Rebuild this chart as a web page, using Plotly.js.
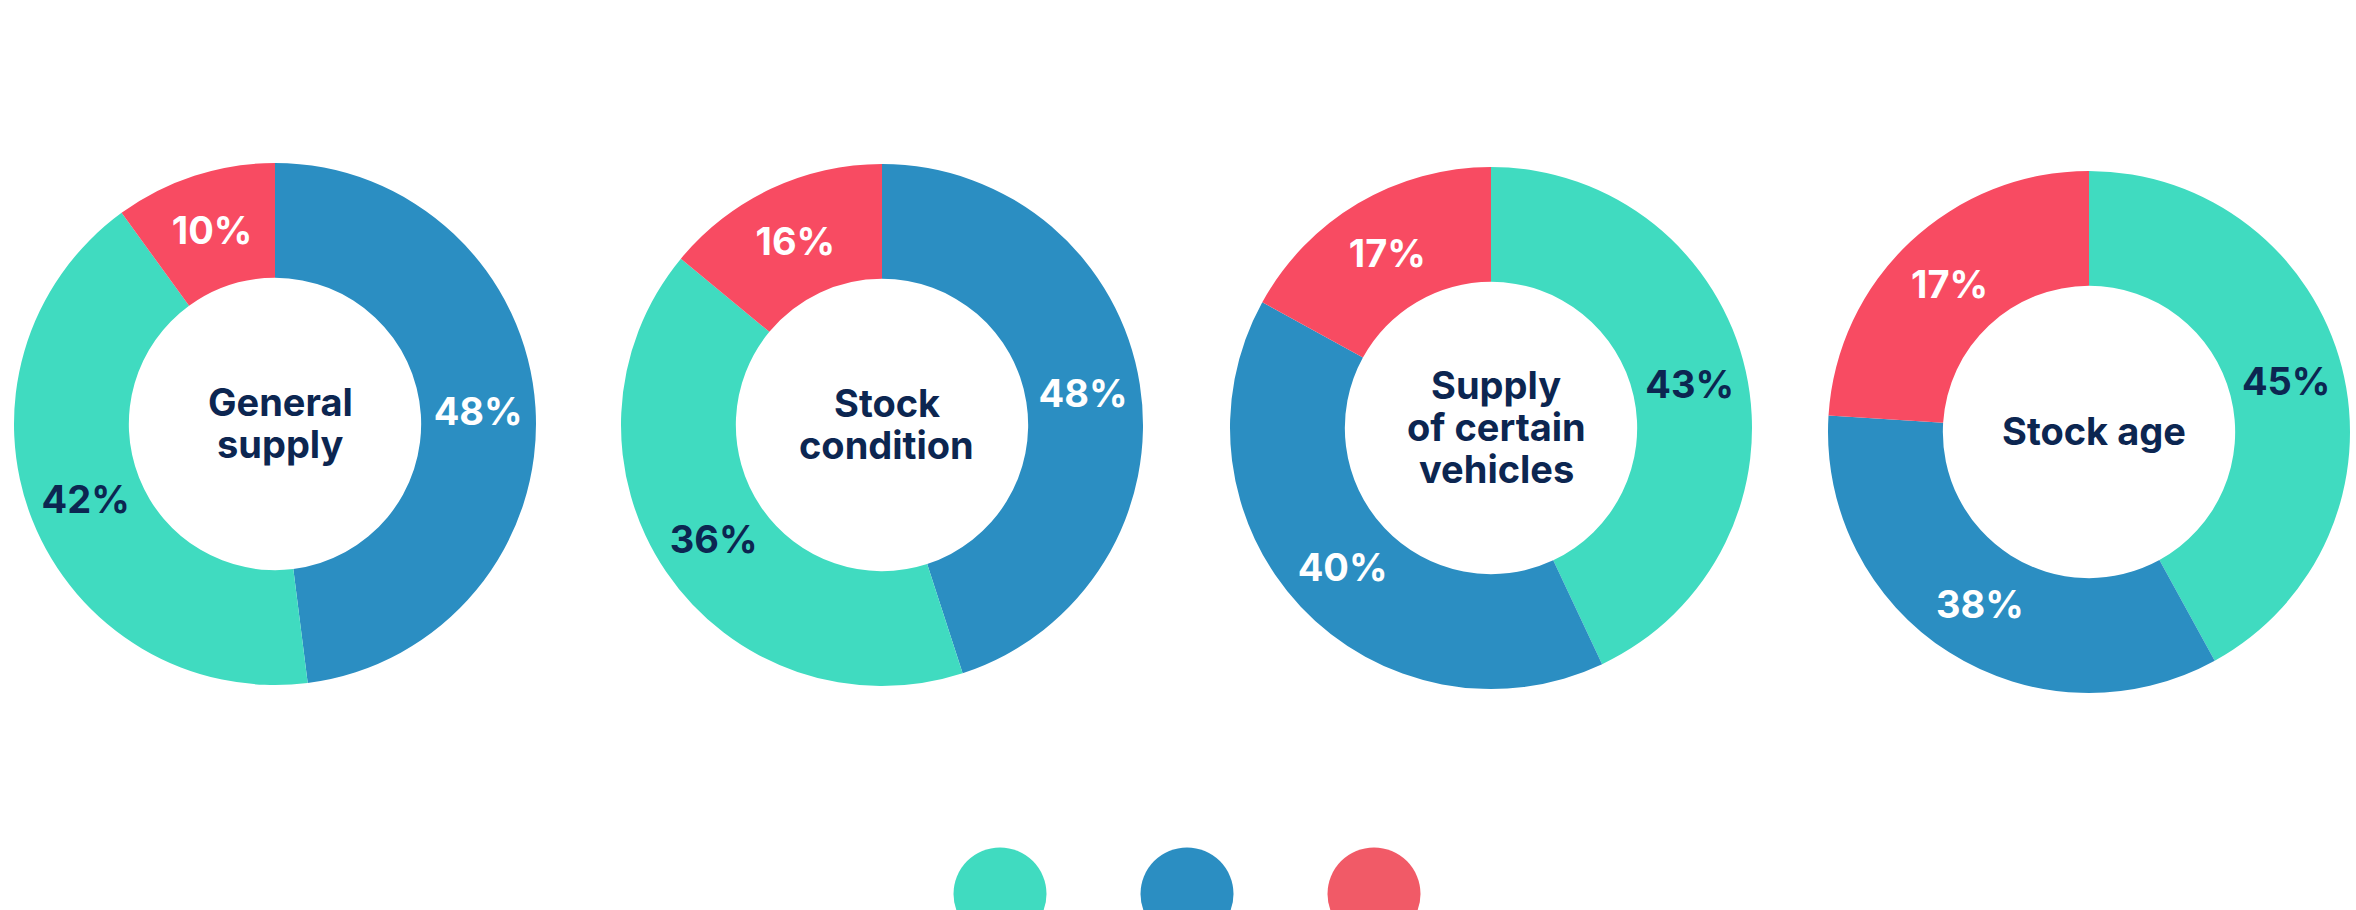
<!DOCTYPE html>
<html>
<head>
<meta charset="utf-8">
<script src="https://cdn.plot.ly/plotly-3.0.1.min.js"></script>
<style>
  html, body { margin: 0; padding: 0; background: #ffffff; }
  #chart { width: 2356px; height: 910px; }
</style>
</head>
<body>
<div id="chart"></div>
<script>
// ---- Data ----
const categories = ["Segment 1", "Segment 2", "Segment 3"];   // teal, blue, red (legend order)
const pieTitles = ["General<br>supply", "Stock<br>condition", "Supply<br>of certain<br>vehicles", "Stock age"];

// slice order (clockwise from 12 o'clock) for each donut
const generalSupplyLabels   = ["Segment 2", "Segment 1", "Segment 3"];
const stockConditionLabels  = ["Segment 2", "Segment 1", "Segment 3"];
const certainVehiclesLabels = ["Segment 1", "Segment 2", "Segment 3"];
const stockAgeLabels        = ["Segment 1", "Segment 2", "Segment 3"];

// arc shares as drawn in the picture
const generalSupplyShares   = [48, 42, 10];
const stockConditionShares  = [45, 41, 14];
const certainVehiclesShares = [43, 40, 17];
const stockAgeShares        = [42, 34, 24];

// percentages printed on the slices
const generalSupplyText   = ["48%", "42%", "10%"];
const stockConditionText  = ["48%", "36%", "16%"];
const certainVehiclesText = ["43%", "40%", "17%"];
const stockAgeText        = ["45%", "38%", "17%"];

// ---- Styling ----
const W = 2356, H = 910;
const navy = "#0c2651";
const sliceColor = {"Segment 1": "#40dbc0", "Segment 2": "#2b8ec2", "Segment 3": "#f84b62"};
const legendColor = {"Segment 1": "#40dbc0", "Segment 2": "#2b8ec2", "Segment 3": "#f15a67"};
const sliceTextColor = {"Segment 1": navy, "Segment 2": "#ffffff", "Segment 3": "#ffffff"};
const fontFamily = "Inter, 'Open Sans', Arial, sans-serif";

const R = 261;                       // outer radius in px
const centers = [[275, 424], [882, 425], [1491, 428], [2089, 432]];
const lineGap = 42;                  // spacing between centre-text lines

const pies = [
  {labels: generalSupplyLabels,   values: generalSupplyShares,   text: generalSupplyText},
  {labels: stockConditionLabels,  values: stockConditionShares,  text: stockConditionText},
  {labels: certainVehiclesLabels, values: certainVehiclesShares, text: certainVehiclesText},
  {labels: stockAgeLabels,        values: stockAgeShares,        text: stockAgeText}
];

const traces = [];
const annotations = [];
pies.forEach((p, i) => {
  const [cx, cy] = centers[i];
  traces.push({
    type: "pie",
    labels: p.labels,
    values: p.values,
    text: p.text,
    textinfo: "text",
    textposition: "inside",
    insidetextorientation: "horizontal",
    sort: false,
    direction: "clockwise",
    rotation: 0,
    hole: 0.56,
    marker: {colors: p.labels.map(l => sliceColor[l]), line: {width: 0}},
    textfont: {family: fontFamily, size: 38, weight: 700, color: p.labels.map(l => sliceTextColor[l])},
    hoverinfo: "label+text",
    showlegend: false,
    domain: {
      x: [(cx - R) / W, (cx + R) / W],
      y: [1 - (cy + R) / H, 1 - (cy - R) / H]
    }
  });
  const lines = pieTitles[i].split("<br>");
  const n = lines.length;
  lines.forEach((ln, k) => {
    const yPix = cy - 1 + (k - (n - 1) / 2) * lineGap;
    annotations.push({
      xref: "paper", yref: "paper",
      x: (cx + 5) / W, y: 1 - yPix / H,
      xanchor: "center", yanchor: "middle",
      text: ln, showarrow: false,
      font: {family: fontFamily, size: 38, weight: 700, color: navy}
    });
  });
});

// legend dots (no text visible in the reference)
const legendX0 = 1000, legendStep = 187, legendY = 894;
traces.push({
  type: "scatter",
  mode: "markers",
  x: categories.map((c, k) => legendX0 + k * legendStep),
  y: categories.map(() => legendY),
  text: categories,
  hoverinfo: "text",
  marker: {size: 93, color: categories.map(c => legendColor[c]), line: {width: 0}},
  showlegend: false,
  cliponaxis: false
});

const layout = {
  width: W, height: H,
  margin: {l: 0, r: 0, t: 0, b: 0},
  paper_bgcolor: "#ffffff",
  plot_bgcolor: "rgba(0,0,0,0)",
  showlegend: false,
  xaxis: {range: [0, W], visible: false, fixedrange: true},
  yaxis: {range: [H, 0], visible: false, fixedrange: true},
  annotations: annotations,
  font: {family: fontFamily}
};

Plotly.newPlot("chart", traces, layout, {displayModeBar: false, staticPlot: true});
</script>
</body>
</html>
